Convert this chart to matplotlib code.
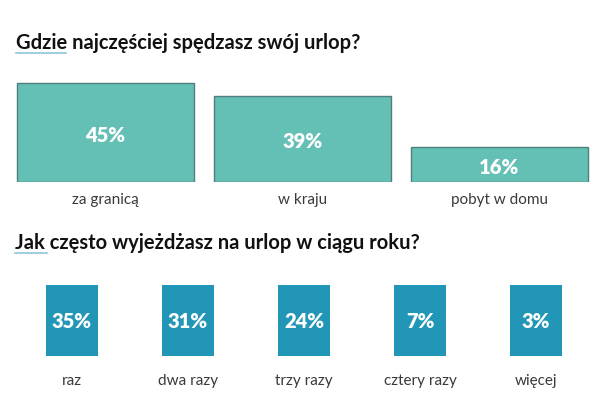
import matplotlib.pyplot as plt
from matplotlib.lines import Line2D

# dane z ankiety
miejsca = ["za granicą", "w kraju", "pobyt w domu"]
miejsca_proc = [45, 39, 16]

czestosc = ["raz", "dwa razy", "trzy razy", "cztery razy", "więcej"]
czestosc_proc = [35, 31, 24, 7, 3]

tytul1 = "Gdzie najczęściej spędzasz swój urlop?"
tytul2 = "Jak często wyjeżdżasz na urlop w ciągu roku?"

plt.rcParams['font.family'] = ['Lato', 'DejaVu Sans']

W, H = 600, 420
fig = plt.figure(figsize=(6, 4.2), dpi=100)

teal = "#64bfb5"
blue = "#2196b6"
szary = "#3a3a3a"

# --- wykres 1: wysokosc prostokata ~ procent ---
ax1 = fig.add_axes([7 / W, (H - 182) / H, 591 / W, 110 / H])
ax1.bar(range(len(miejsca)), miejsca_proc, width=0.9, color=teal,
        edgecolor="#4f7f7a", linewidth=1.0)
for i, v in enumerate(miejsca_proc):
    ax1.text(i, v / 2 - 1.2, f"{v}%", ha="center", va="center", color="white",
             fontsize=14.5, fontweight="heavy")
ax1.set_xlim(-0.5, len(miejsca) - 0.5)
ax1.set_ylim(0, 50)
ax1.set_xticks(range(len(miejsca)))
ax1.set_xticklabels(miejsca, fontsize=11, color=szary)
ax1.tick_params(axis="x", length=0, pad=8)
ax1.set_yticks([])
for s in ax1.spines.values():
    s.set_visible(False)

# --- wykres 2: jednakowe prostokaty ---
ax2 = fig.add_axes([14 / W, (H - 356) / H, 580 / W, 71 / H])
ax2.bar(range(len(czestosc)), [1] * len(czestosc), width=0.44, color=blue)
for i, v in enumerate(czestosc_proc):
    ax2.text(i, 0.48, f"{v}%", ha="center", va="center", color="white",
             fontsize=14.5, fontweight="heavy")
ax2.set_xlim(-0.5, len(czestosc) - 0.5)
ax2.set_ylim(0, 1)
ax2.set_xticks(range(len(czestosc)))
ax2.set_xticklabels(czestosc, fontsize=11, color=szary)
ax2.tick_params(axis="x", length=0, pad=13)
ax2.set_yticks([])
for s in ax2.spines.values():
    s.set_visible(False)

# tytuly z podkresleniem pierwszego slowa
fig.text(16 / W, 1 - 43 / H, tytul1, ha="left", va="center", fontsize=14.5,
         fontweight="bold", color="#111111")
fig.add_artist(Line2D([16 / W, 66 / W], [1 - 53 / H] * 2, color="#8fc6dd", lw=1.2))
fig.text(15 / W, 1 - 243 / H, tytul2, ha="left", va="center", fontsize=14.5,
         fontweight="bold", color="#111111")
fig.add_artist(Line2D([15 / W, 47 / W], [1 - 253 / H] * 2, color="#8fc6dd", lw=1.2))

fig.savefig("out.png", dpi=100)
